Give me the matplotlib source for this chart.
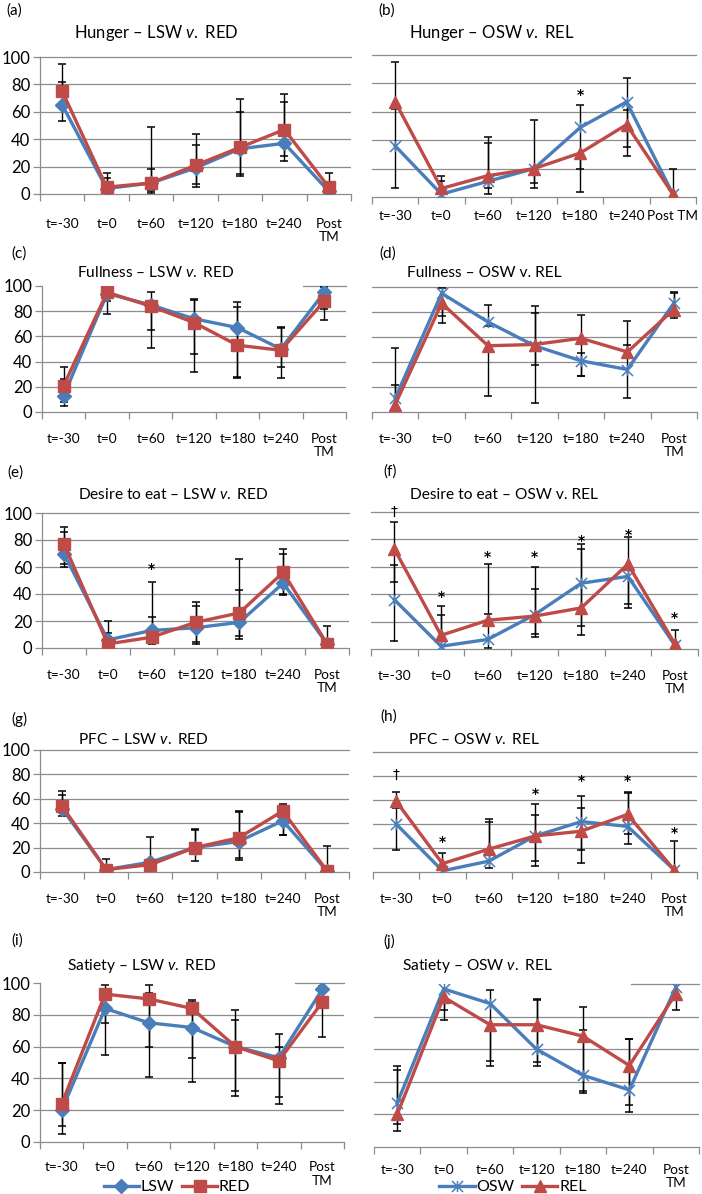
import matplotlib.pyplot as plt
from matplotlib.path import Path
import numpy as np

plt.rcParams['font.family'] = ['Lato', 'DejaVu Sans']
plt.rcParams['mathtext.fontset'] = 'custom'
plt.rcParams['mathtext.rm'] = 'Lato'
plt.rcParams['mathtext.it'] = 'Lato:italic'

categories = ['t=-30', 't=0', 't=60', 't=120', 't=180', 't=240', 'Post\nTM']
y_ticks = [0, 20, 40, 60, 80, 100]

# (a) Hunger - LSW v. RED
a_lsw = [65, 4, 8, 19, 33, 37, 2]
a_red = [75, 5, 8, 21, 34, 47, 5]
a_lsw_lo = [53, 4, 2.5, 5, 13, 24, 2]
a_lsw_hi = [82, 12, 18, 36, 60, 67, 2]
a_red_lo = [75, 5, 1, 7, 14.5, 28, 5]
a_red_hi = [95, 15, 49, 44, 69, 73, 15]

# (b) Hunger - OSW v. REL
b_osw = [36, 2, 11, 20, 49, 67, 2]
b_rel = [67, 6, 15, 20, 31, 51, 2]
b_osw_lo = [6, 2, 2, 6, 20, 35, 2]
b_osw_hi = [62, 11, 38, 54, 65, 83.5, 20]
b_rel_lo = [67, 6, 6, 10, 3.5, 29, 2]
b_rel_hi = [95, 15, 42, 20, 31, 61, 2]
b_marks = ['', '', '', '', '*', '', '']
b_mark_y = [0, 0, 0, 0, 76, 0, 0]

# (c) Fullness - LSW v. RED
c_lsw = [13, 94, 85, 74, 67, 50, 95]
c_red = [21, 95, 84, 71, 53, 49, 88]
c_lsw_lo = [5, 88, 65, 46, 28, 36, 82]
c_lsw_hi = [26, 94, 95, 90, 87.5, 67.5, 99.5]
c_red_lo = [8, 78, 51, 32, 27, 27, 73]
c_red_hi = [36, 95, 84, 89, 83, 67, 88]

# (d) Fullness - OSW v. REL
d_osw = [11, 95, 72, 53, 41, 34, 87]
d_rel = [6, 87, 53, 54, 59, 48, 82]
d_osw_lo = [3, 77, 69, 7, 29, 11.5, 87]
d_osw_hi = [22, 99, 86, 79, 47.5, 53.6, 96]
d_rel_lo = [6, 71, 13, 38, 29, 48, 75]
d_rel_hi = [51, 87, 53, 84.5, 78, 73, 95]

# (e) Desire to eat - LSW v. RED
e_lsw = [70, 6, 13, 15, 19, 48, 3]
e_red = [77, 3, 8, 19, 26, 56, 3]
e_lsw_lo = [62, 6, 4, 3, 7, 40, 3]
e_lsw_hi = [86, 20, 23, 31, 43, 70, 3]
e_red_lo = [60, 3, 3, 4.5, 9, 39.5, 3]
e_red_hi = [90, 11, 49, 34, 66, 73, 16]
e_marks = ['', '', '*', '', '', '', '']
e_mark_y = [0, 0, 63, 0, 0, 0, 0]

# (f) Desire to eat - OSW v. REL
f_osw = [36, 2, 7, 25, 48, 53, 3]
f_rel = [73, 10, 21, 24, 30, 62, 4]
f_osw_lo = [6, 2, 1, 9, 17, 30, 3]
f_osw_hi = [61, 25, 25.5, 43.5, 73, 53, 3]
f_rel_lo = [49, 10, 21, 11, 10, 33, 4]
f_rel_hi = [93, 31.5, 62, 60, 77, 82, 14]
f_marks = ['\u2020', '*', '*', '*', '*', '*', '*']
f_mark_y = [100, 42, 71, 71, 83, 87, 26.5]

# (g) PFC - LSW v. RED
g_lsw = [52, 2, 8, 20, 25, 42, 1]
g_red = [54, 2, 6, 20, 28, 50, 1]
g_lsw_lo = [45.5, 2, 8, 9, 10, 30, 1]
g_lsw_hi = [63, 2, 28.6, 34.6, 49, 42, 1]
g_red_lo = [54, 2, 3, 20, 11.5, 30, 1]
g_red_hi = [66, 11, 6, 35, 50, 55.6, 21]

# (h) PFC - OSW v. REL
h_osw = [40, 1, 9, 30, 42, 38, 2]
h_rel = [59, 7, 19, 30, 34, 48, 2]
h_osw_lo = [18.5, 1, 3, 5, 18.5, 23.5, 2]
h_osw_hi = [53, 1, 42, 47.5, 63, 66, 2]
h_rel_lo = [59, 7, 19, 9, 7.5, 32, 2]
h_rel_hi = [67, 16, 44, 57, 53, 67, 26]
h_marks = ['\u2020', '*', '', '*', '*', '*', '*']
h_mark_y = [80.6, 29.6, 0, 70, 80.6, 80.6, 37]

# (i) Satiety - LSW v. RED
i_lsw = [20, 84, 75, 72, 60, 53, 96]
i_red = [24, 93, 90, 84, 60, 51, 88]
i_lsw_lo = [5, 55, 41, 38, 29, 24, 96]
i_lsw_hi = [49.7, 84, 94, 88, 77, 60, 98]
i_red_lo = [10, 75, 60, 53, 32, 28, 66]
i_red_hi = [50, 98.5, 98.5, 89, 83, 68, 88]

# (j) Satiety - OSW v. REL
j_osw = [27, 97, 88, 60, 44, 35, 98]
j_rel = [20, 92, 75, 75, 68, 50, 94]
j_osw_lo = [10, 78, 50, 50, 33, 21.6, 98]
j_osw_hi = [47, 97, 96.5, 90, 72, 66, 98]
j_rel_lo = [14, 84, 53, 52, 34.5, 26, 84]
j_rel_hi = [50, 92, 75, 91, 86, 66, 94]

BLUE = '#4A7EBB'
RED = '#BE4B48'
GRID = '#8C8C8C'
W, H = 702, 1194

# Excel-style "star" marker: an x with a vertical stroke
star = Path([(-1, -1), (1, 1), (-1, 1), (1, -1), (0, -1), (0, 1)],
            [Path.MOVETO, Path.LINETO, Path.MOVETO, Path.LINETO, Path.MOVETO, Path.LINETO])

fig = plt.figure(figsize=(W / 100, H / 100), dpi=100)


def px_axes(left, top, right, bottom):
    return fig.add_axes([left / W, 1 - bottom / H, (right - left) / W, (bottom - top) / H])


def fig_text(x, y, s, **kw):
    fig.text(x / W, 1 - y / H, s, **kw)


def draw_panel(ax, s1, s2, s1_lo, s1_hi, s2_lo, s2_hi, obese, left_col,
               top_grid_from=0.0, marks=None, mark_y=None, labels=categories, pad=15):
    x = np.arange(len(categories))
    ax.set_xlim(-0.5, len(categories) - 0.5)
    ax.set_ylim(0, 100)
    for v in y_ticks[1:-1]:
        ax.axhline(v, color=GRID, lw=0.9, zorder=0)
    ax.axhline(100, xmin=top_grid_from, color=GRID, lw=0.9, zorder=0, clip_on=False)

    # error bars (only the drawn sides)
    for vals, lo, hi in [(s1, s1_lo, s1_hi), (s2, s2_lo, s2_hi)]:
        v, lo, hi = np.array(vals, float), np.array(lo, float), np.array(hi, float)
        ax.vlines(x, lo, hi, color='black', lw=1.0, zorder=2)
        m = hi > v
        ax.plot(x[m], hi[m], ls='none', marker='_', ms=6, mew=1.1, color='black', zorder=2)
        m = lo < v
        ax.plot(x[m], lo[m], ls='none', marker='_', ms=6, mew=1.1, color='black', zorder=2)

    if obese:
        l1, = ax.plot(x, s1, color=BLUE, lw=2.4, marker=star, ms=8, mew=1.1,
                      mfc='none', mec=BLUE, zorder=3, label='OSW')
        l2, = ax.plot(x, s2, color=RED, lw=2.4, marker='^', ms=8.5,
                      mfc=RED, mec=RED, zorder=4, label='REL')
    else:
        l1, = ax.plot(x, s1, color=BLUE, lw=2.4, marker='D', ms=7,
                      mfc=BLUE, mec=BLUE, zorder=3, label='LSW')
        l2, = ax.plot(x, s2, color=RED, lw=2.4, marker='s', ms=8,
                      mfc=RED, mec=RED, zorder=4, label='RED')

    if marks is not None:
        for xi, mk, my in zip(x, marks, mark_y):
            if mk:
                ax.annotate(mk, (xi, my), xytext=(0, -4 if mk == '*' else 0),
                            textcoords='offset points', ha='center', va='center',
                            fontsize=10, fontfamily='DejaVu Sans',
                            fontweight='bold' if mk == '*' else 'normal',
                            color='black', zorder=5)

    ax.set_xticks(x)
    ax.set_xticklabels(labels, fontsize=9.8, linespacing=1.15)
    ax.set_xticks(np.arange(-0.5, len(categories)), minor=True)
    ax.tick_params(axis='x', which='major', length=0, pad=pad)
    ax.tick_params(axis='x', which='minor', length=5, color=GRID, width=0.9)
    for side in ['top', 'right']:
        ax.spines[side].set_visible(False)
    ax.spines['bottom'].set_color(GRID)
    ax.spines['bottom'].set_linewidth(0.9)
    ax.set_yticks(y_ticks)
    if left_col:
        ax.spines['left'].set_color(GRID)
        ax.spines['left'].set_linewidth(0.9)
        ax.tick_params(axis='y', length=5, color=GRID, width=0.9, labelsize=12, pad=2)
    else:
        ax.spines['left'].set_visible(False)
        ax.tick_params(axis='y', length=0, labelleft=False)
    return l1, l2


ax_a = px_axes(40, 57, 351, 194)
draw_panel(ax_a, a_lsw, a_red, a_lsw_lo, a_lsw_hi, a_red_lo, a_red_hi, False, True, pad=17)
ax_b = px_axes(372, 55, 696, 197)
draw_panel(ax_b, b_osw, b_rel, b_osw_lo, b_osw_hi, b_rel_lo, b_rel_hi, True, False,
           marks=b_marks, mark_y=b_mark_y,
           labels=categories[:-1] + ['Post TM'], pad=9)
ax_c = px_axes(42, 286, 346, 412)
draw_panel(ax_c, c_lsw, c_red, c_lsw_lo, c_lsw_hi, c_red_lo, c_red_hi, False, True,
           top_grid_from=0.86)
ax_d = px_axes(372, 287, 697, 412)
draw_panel(ax_d, d_osw, d_rel, d_osw_lo, d_osw_hi, d_rel_lo, d_rel_hi, True, False)
ax_e = px_axes(42, 513, 349, 648)
draw_panel(ax_e, e_lsw, e_red, e_lsw_lo, e_lsw_hi, e_red_lo, e_red_hi, False, True,
           marks=e_marks, mark_y=e_mark_y)
ax_f = px_axes(371, 512, 698, 649)
draw_panel(ax_f, f_osw, f_rel, f_osw_lo, f_osw_hi, f_rel_lo, f_rel_hi, True, False,
           marks=f_marks, mark_y=f_mark_y)
ax_g = px_axes(40, 750, 349, 872)
draw_panel(ax_g, g_lsw, g_red, g_lsw_lo, g_lsw_hi, g_red_lo, g_red_hi, False, True)
ax_h = px_axes(373, 752, 697, 872)
draw_panel(ax_h, h_osw, h_rel, h_osw_lo, h_osw_hi, h_rel_lo, h_rel_hi, True, False,
           marks=h_marks, mark_y=h_mark_y)
ax_i = px_axes(40, 983, 344, 1142)
li = draw_panel(ax_i, i_lsw, i_red, i_lsw_lo, i_lsw_hi, i_red_lo, i_red_hi, False, True,
                top_grid_from=0.84, pad=14)
ax_j = px_axes(374, 984, 699, 1147)
lj = draw_panel(ax_j, j_osw, j_rel, j_osw_lo, j_osw_hi, j_rel_lo, j_rel_hi, True, False,
                top_grid_from=0.79, pad=12)

# titles and panel letters
titles = [
    ('Hunger \u2013 LSW $\\mathit{v.}$ RED', 74, 33, 12),
    ('Hunger \u2013 OSW $\\mathit{v.}$ REL', 409, 33, 12),
    ('Fullness \u2013 LSW $\\mathit{v.}$ RED', 77, 273, 11.2),
    ('Fullness \u2013 OSW v. REL', 407, 273, 11.2),
    ('Desire to eat \u2013 LSW $\\mathit{v.}$ RED', 78, 494, 11.2),
    ('Desire to eat \u2013 OSW v. REL', 410, 495, 11.2),
    ('PFC \u2013 LSW $\\mathit{v.}$ RED', 78, 740, 11.2),
    ('PFC \u2013 OSW $\\mathit{v.}$ REL', 408, 740, 11.2),
    ('Satiety \u2013 LSW $\\mathit{v.}$ RED', 67, 966, 11.2),
    ('Satiety \u2013 OSW $\\mathit{v.}$ REL', 402, 966, 11.2),
]
for s, x, y, fs in titles:
    fig_text(x, y, s, fontsize=fs, ha='left', va='center')

letters = [('(a)', 6, 11), ('(b)', 378, 11), ('(c)', 11, 254), ('(d)', 379, 254),
           ('(e)', 7, 473), ('(f)', 383, 472), ('(g)', 11, 719), ('(h)', 380, 717),
           ('(i)', 11, 941), ('(j)', 383, 941)]
for s, x, y in letters:
    fig_text(x, y, s, fontsize=11, ha='left', va='center')

fig.legend(handles=list(li), loc='center', bbox_to_anchor=(177 / W, 1 - 1187 / H),
           ncol=2, frameon=False, fontsize=11.5, handlelength=2.2, handletextpad=0.1,
           columnspacing=0.5, borderpad=0)
fig.legend(handles=list(lj), loc='center', bbox_to_anchor=(513 / W, 1 - 1187 / H),
           ncol=2, frameon=False, fontsize=11.5, handlelength=2.2, handletextpad=0.1,
           columnspacing=0.5, borderpad=0)

fig.savefig('out.png', dpi=100)
